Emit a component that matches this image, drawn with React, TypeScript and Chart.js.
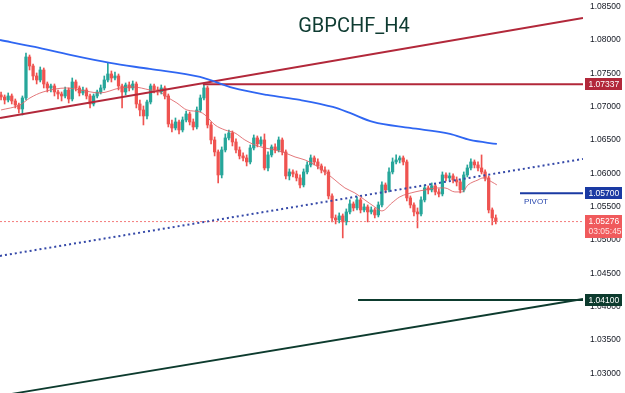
import React, { useEffect, useRef } from "react";
import { Chart, registerables } from "chart.js";

Chart.register(...registerables);

const TITLE = "GBPCHF_H4";
const PIVOT_NAME = "PIVOT";
const CLOCK_TEXT = "03:05:45";

const openPrices = [
  1.07176, 1.07146, 1.07101, 1.07161, 1.07086, 1.07026, 1.06966, 1.07131, 1.07746, 1.07611,
  1.07461, 1.07401, 1.07551, 1.07341, 1.07281, 1.07311, 1.07221, 1.07191, 1.07161, 1.07251,
  1.07116, 1.07371, 1.07281, 1.07206, 1.07251, 1.07161, 1.07041, 1.07161, 1.07221, 1.07281,
  1.07401, 1.07491, 1.07431, 1.07461, 1.07311, 1.07221, 1.07326, 1.07281, 1.07341, 1.07041,
  1.06951, 1.06861, 1.07071, 1.07311, 1.07251, 1.07221, 1.07281, 1.07161, 1.06741, 1.06681,
  1.06771, 1.06651, 1.06801, 1.06891, 1.06771, 1.06696, 1.06951, 1.07131, 1.07281, 1.06726,
  1.06501, 1.06321, 1.05976, 1.06351, 1.06531, 1.06606, 1.06471, 1.06351, 1.06261, 1.06231,
  1.06171, 1.06381, 1.06531, 1.06441, 1.06501, 1.06081, 1.06276, 1.06396, 1.06351, 1.06501,
  1.06321, 1.05961, 1.06021, 1.05991, 1.05931, 1.05826, 1.06021, 1.06126, 1.06231, 1.06171,
  1.06111, 1.06051, 1.06021, 1.05661, 1.05331, 1.05301, 1.05361, 1.05271, 1.05421, 1.05541,
  1.05481, 1.05601, 1.05451, 1.05496, 1.05421, 1.05451, 1.05376, 1.05526, 1.05826, 1.05751,
  1.06021, 1.06171, 1.06201, 1.06231, 1.06171, 1.05631, 1.05526, 1.05421, 1.05391, 1.05601,
  1.05781, 1.05751, 1.05811, 1.05721, 1.05691, 1.05976, 1.05931, 1.05961, 1.05901, 1.05871,
  1.05751, 1.05976, 1.06081, 1.06171, 1.06126, 1.06081, 1.06021, 1.05931, 1.05451, 1.05331,
];

const highPrices = [
  1.07221, 1.07176, 1.07206, 1.07191, 1.07116, 1.07056, 1.07161, 1.07806, 1.07776, 1.07641,
  1.07506, 1.07596, 1.07581, 1.07371, 1.07341, 1.07341, 1.07251, 1.07221, 1.07296, 1.07281,
  1.07431, 1.07401, 1.07311, 1.07296, 1.07281, 1.07191, 1.07191, 1.07251, 1.07326, 1.07461,
  1.07656, 1.07536, 1.07521, 1.07491, 1.07341, 1.07356, 1.07371, 1.07386, 1.07371, 1.07101,
  1.07011, 1.07101, 1.07341, 1.07341, 1.07296, 1.07326, 1.07311, 1.07191, 1.06801, 1.06831,
  1.06801, 1.06846, 1.06936, 1.06921, 1.06816, 1.06996, 1.07176, 1.07341, 1.07311, 1.06771,
  1.06546, 1.06351, 1.06396, 1.06591, 1.06651, 1.06636, 1.06516, 1.06396, 1.06306, 1.06276,
  1.06426, 1.06576, 1.06561, 1.06546, 1.06591, 1.06321, 1.06426, 1.06441, 1.06546, 1.06531,
  1.06351, 1.06066, 1.06051, 1.06036, 1.05976, 1.06066, 1.06171, 1.06276, 1.06261, 1.06216,
  1.06141, 1.06096, 1.06051, 1.05691, 1.05376, 1.05406, 1.05391, 1.05466, 1.05601, 1.05571,
  1.05646, 1.05631, 1.05541, 1.05526, 1.05496, 1.05481, 1.05571, 1.05871, 1.05856, 1.06081,
  1.06231, 1.06276, 1.06261, 1.06261, 1.06201, 1.05661, 1.05556, 1.05481, 1.05646, 1.05826,
  1.05811, 1.05856, 1.05841, 1.05766, 1.06021, 1.06006, 1.06006, 1.05991, 1.05946, 1.05901,
  1.06021, 1.06126, 1.06216, 1.06201, 1.06171, 1.06276, 1.06051, 1.05961, 1.05481, 1.05376,
];

const lowPrices = [
  1.07101, 1.07041, 1.07071, 1.07041, 1.06981, 1.06906, 1.06876, 1.07101, 1.07551, 1.07401,
  1.07341, 1.07371, 1.07281, 1.07221, 1.07221, 1.07161, 1.07116, 1.07086, 1.07131, 1.07056,
  1.07086, 1.07236, 1.07161, 1.07176, 1.07116, 1.06981, 1.07011, 1.07131, 1.07191, 1.07251,
  1.07371, 1.07371, 1.07401, 1.07251, 1.06981, 1.07176, 1.07236, 1.07251, 1.06981, 1.06861,
  1.06726, 1.06816, 1.07041, 1.07206, 1.07176, 1.07191, 1.07116, 1.06696, 1.06621, 1.06651,
  1.06591, 1.06621, 1.06771, 1.06726, 1.06651, 1.06666, 1.06921, 1.07101, 1.06681, 1.06441,
  1.06261, 1.05856, 1.05931, 1.06321, 1.06501, 1.06411, 1.06306, 1.06216, 1.06186, 1.06111,
  1.06141, 1.06351, 1.06396, 1.06411, 1.06051, 1.06036, 1.06246, 1.06306, 1.06321, 1.06276,
  1.05916, 1.05901, 1.05946, 1.05886, 1.05781, 1.05796, 1.05991, 1.06096, 1.06126, 1.06066,
  1.06006, 1.05976, 1.05616, 1.05271, 1.05241, 1.05256, 1.05031, 1.05226, 1.05391, 1.05436,
  1.05451, 1.05406, 1.05421, 1.05271, 1.05391, 1.05331, 1.05346, 1.05496, 1.05706, 1.05721,
  1.05991, 1.06141, 1.06156, 1.06126, 1.05586, 1.05481, 1.05361, 1.05181, 1.05361, 1.05571,
  1.05691, 1.05721, 1.05676, 1.05646, 1.05661, 1.05886, 1.05901, 1.05856, 1.05811, 1.05706,
  1.05721, 1.05946, 1.06051, 1.06081, 1.06036, 1.05991, 1.05886, 1.05406, 1.05226, 1.05241,
];

const closePrices = [
  1.07146, 1.07101, 1.07161, 1.07086, 1.07026, 1.06966, 1.07131, 1.07746, 1.07611, 1.07461,
  1.07401, 1.07551, 1.07341, 1.07281, 1.07311, 1.07221, 1.07191, 1.07161, 1.07251, 1.07116,
  1.07371, 1.07281, 1.07206, 1.07251, 1.07161, 1.07041, 1.07161, 1.07221, 1.07281, 1.07401,
  1.07491, 1.07431, 1.07461, 1.07311, 1.07221, 1.07326, 1.07281, 1.07341, 1.07041, 1.06951,
  1.06861, 1.07071, 1.07311, 1.07251, 1.07221, 1.07281, 1.07161, 1.06741, 1.06681, 1.06771,
  1.06651, 1.06801, 1.06891, 1.06771, 1.06696, 1.06951, 1.07131, 1.07281, 1.06726, 1.06501,
  1.06321, 1.05976, 1.06351, 1.06531, 1.06606, 1.06471, 1.06351, 1.06261, 1.06231, 1.06171,
  1.06381, 1.06531, 1.06441, 1.06501, 1.06081, 1.06276, 1.06396, 1.06351, 1.06501, 1.06321,
  1.05961, 1.06021, 1.05991, 1.05931, 1.05826, 1.06021, 1.06126, 1.06231, 1.06171, 1.06111,
  1.06051, 1.06021, 1.05661, 1.05331, 1.05301, 1.05361, 1.05271, 1.05421, 1.05541, 1.05481,
  1.05601, 1.05451, 1.05496, 1.05421, 1.05451, 1.05376, 1.05526, 1.05826, 1.05751, 1.06021,
  1.06171, 1.06201, 1.06231, 1.06171, 1.05631, 1.05526, 1.05421, 1.05391, 1.05601, 1.05781,
  1.05751, 1.05811, 1.05721, 1.05691, 1.05976, 1.05931, 1.05961, 1.05901, 1.05871, 1.05751,
  1.05976, 1.06081, 1.06171, 1.06126, 1.06081, 1.06021, 1.05931, 1.05451, 1.05331, 1.05276,
];

const priceTicks = [1.03, 1.035, 1.04, 1.045, 1.05, 1.055, 1.06, 1.065, 1.07, 1.075, 1.08, 1.085];

const slowMaIndex = [-0.3, 9.5, 19.4, 30.6, 41.8, 55.9, 65.2, 74.7, 84, 93.2, 98, 104.5, 114.9, 126.1, 131.7, 139.3];
const slowMaValues = [
  1.08001, 1.07896, 1.07776, 1.07656, 1.07566, 1.07446, 1.07281, 1.07176, 1.07101, 1.06996,
  1.06906, 1.06771, 1.06681, 1.06591, 1.06501, 1.06441,
];

const fastMaIndex = [
  0, 5.3, 8.1, 11.8, 18.5, 22.2, 27.8, 33.4, 37.1, 41.8, 44.6, 46.6, 49.4, 52.2, 55.9, 57.3,
  60.1, 62.9, 65.7, 68.5, 71.3, 74.1, 77, 79.8, 82.6, 85.4, 88.2, 91, 93.8, 96.6, 99.4, 102.2,
  105, 107, 109.8, 112, 116.3, 119.1, 122.7, 124.7, 127.5, 129.5, 131.2, 134, 135.4, 137.9, 139.3,
];
const fastMaValues = [
  1.06951, 1.07026, 1.07131, 1.07221, 1.07281, 1.07251, 1.07206, 1.07281, 1.07296, 1.07251,
  1.07221, 1.07146, 1.07056, 1.06951, 1.06921, 1.06876, 1.06726, 1.06651, 1.06606, 1.06501,
  1.06426, 1.06381, 1.06351, 1.06306, 1.06246, 1.06201, 1.06126, 1.06021, 1.05901, 1.05781,
  1.05706, 1.05601, 1.05496, 1.05436, 1.05556, 1.05646, 1.05721, 1.05751, 1.05781, 1.05781,
  1.05721, 1.05721, 1.05826, 1.05901, 1.05931, 1.05871, 1.05826,
];

const Y_MIN = 1.02704;
const Y_MAX = 1.08601;
const X_MIN = -0.3;
const X_MAX = 163.5;

const trendIndex = [X_MIN, X_MAX];
const resistanceTrend = [1.06831, 1.08331];
const midTrend = [1.04761, 1.06216];
const supportTrend = [1.02661, 1.04115];

const resistanceLevel = 1.07337;
const resistanceStart = 56.7;
const pivotLevel = 1.057;
const pivotStart = 145.8;
const supportLevel = 1.041;
const supportStart = 100.3;
const lastPrice = 1.05276;

const UP = "#26a69a";
const DOWN = "#ef5350";
const DARK_RED = "#b2283a";
const NAVY = "#1a3aa3";
const DARK_GREEN = "#0d3b2e";
const LAST_RED = "#f05a5c";
const LABEL_FONT = '"Liberation Sans", Arial, sans-serif';

function lineSet(xs: number[], ys: number[], color: string, width: number, dash: number[] = [], smooth = false) {
  return {
    type: "line" as const,
    data: xs.map((x, i) => ({ x, y: ys[i] })),
    borderColor: color,
    borderWidth: width,
    borderDash: dash,
    pointRadius: 0,
    fill: false,
    tension: smooth ? 0.4 : 0,
    cubicInterpolationMode: smooth ? ("monotone" as const) : ("default" as const),
    order: 0,
  };
}

const overlayPlugin = {
  id: "overlay",
  afterDraw(chart: any) {
    const { ctx, chartArea, scales } = chart;
    const y = scales.y;
    const x = scales.x;
    ctx.save();
    // title
    ctx.font = '400 20px Roboto, "Liberation Sans", sans-serif';
    ctx.fillStyle = "#0e3b31";
    ctx.textAlign = "center";
    ctx.textBaseline = "alphabetic";
    ctx.fillText(TITLE, 354, 32);

    // pivot caption
    ctx.font = `8px ${LABEL_FONT}`;
    ctx.fillStyle = "#2746ad";
    ctx.textAlign = "left";
    ctx.textBaseline = "middle";
    ctx.fillText(PIVOT_NAME, x.getPixelForValue(pivotStart) + 4, y.getPixelForValue(pivotLevel) + 8);

    const boxLeft = chartArea.right + 2;
    const boxW = 37;
    const boxes = [
      { v: resistanceLevel, bg: DARK_RED },
      { v: pivotLevel, bg: NAVY },
      { v: supportLevel, bg: DARK_GREEN },
    ];
    ctx.font = `8.5px ${LABEL_FONT}`;
    boxes.forEach((b) => {
      const py = Math.round(y.getPixelForValue(b.v));
      ctx.fillStyle = b.bg;
      ctx.fillRect(boxLeft, py - 6, boxW, 12);
      ctx.fillStyle = "#ffffff";
      ctx.textAlign = "left";
      ctx.textBaseline = "middle";
      ctx.fillText(b.v.toFixed(5), boxLeft + 3.5, py + 0.5);
    });
    // last price box with countdown
    const lp = Math.round(y.getPixelForValue(lastPrice));
    ctx.fillStyle = LAST_RED;
    ctx.fillRect(boxLeft, lp - 7, boxW, 23);
    ctx.fillStyle = "#ffffff";
    ctx.fillText(lastPrice.toFixed(5), boxLeft + 3.5, lp);
    ctx.fillStyle = "#ffe1e1";
    ctx.fillText(CLOCK_TEXT, boxLeft + 3.5, lp + 10);
    ctx.restore();
  },
};

export default function App() {
  const ref = useRef<HTMLCanvasElement>(null);

  useEffect(() => {
    const canvas = ref.current;
    if (!canvas) return;
    const idx = closePrices.map((_, i) => i);
    const colors = idx.map((i) => (closePrices[i] >= openPrices[i] ? UP : DOWN));

    const chart = new Chart(canvas, {
      type: "bar",
      data: {
        datasets: [
          lineSet(slowMaIndex, slowMaValues, "#2f66f2", 1.8, [], true),
          lineSet(fastMaIndex, fastMaValues, "rgba(222,96,100,0.85)", 1, [], true),
          lineSet(trendIndex, resistanceTrend, DARK_RED, 2),
          lineSet(trendIndex, midTrend, "#3549a8", 2, [2, 3]),
          lineSet(trendIndex, supportTrend, DARK_GREEN, 1.8),
          lineSet([resistanceStart, X_MAX], [resistanceLevel, resistanceLevel], DARK_RED, 2),
          lineSet([pivotStart, X_MAX], [pivotLevel, pivotLevel], NAVY, 2),
          lineSet([supportStart, X_MAX], [supportLevel, supportLevel], DARK_GREEN, 2),
          lineSet([X_MIN, X_MAX], [lastPrice, lastPrice], "#f47a7a", 1, [2, 2]),
          {
            type: "bar",
            data: idx.map((i) => ({ x: i, y: [lowPrices[i], highPrices[i]] })),
            backgroundColor: colors,
            barThickness: 1,
            grouped: false,
            order: 3,
          },
          {
            type: "bar",
            data: idx.map((i) => ({ x: i, y: [openPrices[i], closePrices[i]] })),
            backgroundColor: colors,
            barThickness: 2.6,
            minBarLength: 1,
            grouped: false,
            order: 2,
          },
        ] as any,
      },
      options: {
        responsive: false,
        animation: false,
        events: [],
        layout: { padding: 0 },
        plugins: {
          legend: { display: false },
          tooltip: { enabled: false },
          title: { display: false },
        },
        scales: {
          x: { type: "linear", min: X_MIN, max: X_MAX, display: false, offset: false },
          y: {
            type: "linear",
            position: "right",
            min: Y_MIN,
            max: Y_MAX,
            beginAtZero: false,
            grid: { display: false, drawTicks: false },
            border: { display: false },
            afterBuildTicks: (s: any) => {
              s.ticks = priceTicks.map((v) => ({ value: v }));
            },
            afterFit: (s: any) => {
              s.width = 42;
              s.paddingTop = 0;
              s.paddingBottom = 0;
            },
            ticks: {
              padding: 7,
              color: "#131722",
              font: { family: LABEL_FONT, size: 8.5 },
              callback: (v: any) => Number(v).toFixed(5),
            },
          },
        },
      } as any,
      plugins: [overlayPlugin],
    });
    return () => chart.destroy();
  }, []);

  return (
    <div style={{ position: "fixed", left: 0, top: 0, width: 625, height: 393, background: "#ffffff" }}>
      <canvas ref={ref} width={625} height={393} style={{ display: "block" }} />
    </div>
  );
}
